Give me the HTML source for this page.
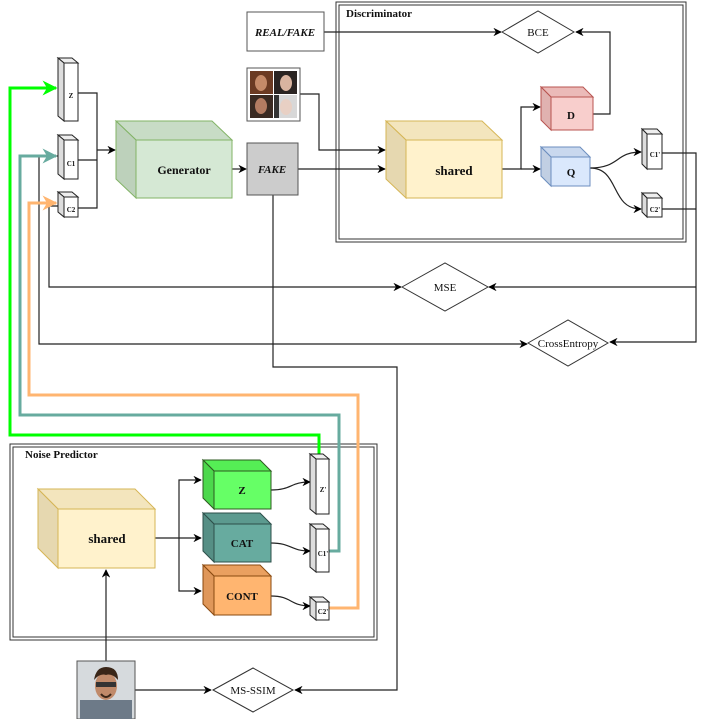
<!DOCTYPE html>
<html><head><meta charset="utf-8"><style>
html,body{margin:0;padding:0;background:#fff;}
svg{display:block;}
text{font-family:"Liberation Serif",serif;fill:#111;}
</style></head><body>
<svg width="701" height="719" viewBox="0 0 701 719" xmlns="http://www.w3.org/2000/svg">
<defs>
<marker id="a" viewBox="0 0 10 10" refX="9" refY="5" markerWidth="7" markerHeight="7" orient="auto"><path d="M0,0 L10,5 L0,10 L3,5z" fill="#000"/></marker>
<marker id="ag" viewBox="0 0 10 10" refX="9" refY="5" markerWidth="5" markerHeight="5" orient="auto"><path d="M0,0 L10,5 L0,10 L3,5z" fill="#00ff00"/></marker>
<marker id="at" viewBox="0 0 10 10" refX="9" refY="5" markerWidth="5" markerHeight="5" orient="auto"><path d="M0,0 L10,5 L0,10 L3,5z" fill="#67ab9f"/></marker>
<marker id="ao" viewBox="0 0 10 10" refX="9" refY="5" markerWidth="5" markerHeight="5" orient="auto"><path d="M0,0 L10,5 L0,10 L3,5z" fill="#ffb570"/></marker>
</defs>

<!-- container boxes -->
<rect x="336" y="2" width="350" height="240" fill="none" stroke="#333" stroke-width="1"/>
<rect x="339" y="5" width="344" height="234" fill="none" stroke="#333" stroke-width="1"/>
<text x="346" y="17" font-size="11" font-weight="bold">Discriminator</text>
<rect x="10" y="444" width="367" height="196" fill="none" stroke="#333"/>
<rect x="13" y="447" width="361" height="190" fill="none" stroke="#333"/>
<text x="25" y="458" font-size="11" font-weight="bold">Noise Predictor</text>

<!-- black connectors -->
<g fill="none" stroke="#222" stroke-width="1.2">
<path d="M78,93 H97 V208 H78 M78,160 H97"/>
<path d="M97,150 H115" marker-end="url(#a)"/>
<path d="M232,169 H246" marker-end="url(#a)"/>
<path d="M298,169 H385" marker-end="url(#a)"/>
<path d="M300,94 H319 V150 H385" marker-end="url(#a)"/>
<path d="M324,32 H501" marker-end="url(#a)"/>
<path d="M593,114 H610 V32 H576" marker-end="url(#a)"/>
<path d="M502,169 H521 V107 H540" marker-end="url(#a)"/>
<path d="M521,169 H540" marker-end="url(#a)"/>
<path d="M590,168 C620,168 615,152 641,152" marker-end="url(#a)"/>
<path d="M590,168 C620,168 610,209 641,209" marker-end="url(#a)"/>
<path d="M662,153 H696 V342 H610" marker-end="url(#a)"/>
<path d="M662,209 H696 M696,287 H489" marker-end="url(#a)"/>
<path d="M64,156 H39 V344 H527" marker-end="url(#a)"/>
<path d="M64,206 H49 V287 H401" marker-end="url(#a)"/>
<path d="M273,195 V367 H397 V690 H295" marker-end="url(#a)"/>
<path d="M135,690 H211" marker-end="url(#a)"/>
<path d="M106,661 V570" marker-end="url(#a)"/>
<path d="M155,538 H179 V480 H201" marker-end="url(#a)"/>
<path d="M179,538 H201" marker-end="url(#a)"/>
<path d="M179,538 V591 H201" marker-end="url(#a)"/>
<path d="M271,490 C292,490 290,482 310,482" marker-end="url(#a)"/>
<path d="M271,543 C292,543 290,551 310,551" marker-end="url(#a)"/>
<path d="M271,596 C292,596 290,606 310,606" marker-end="url(#a)"/>
</g>

<!-- coloured feedback lines -->
<g fill="none" stroke-width="3">
<path d="M319,454 V435 H10 V88 H56" stroke="#00ff00" marker-end="url(#ag)"/>
<path d="M329,551 H339 V415 H20 V156 H56" stroke="#67ab9f" marker-end="url(#at)"/>
<path d="M329,608 H358 V395 H29 V203 H56" stroke="#ffb570" marker-end="url(#ao)"/>
</g>

<!-- cubes -->
<g stroke-width="1">
<!-- generator -->
<g stroke="#82b366"><polygon points="116,121 212,121 232,140 136,140" fill="#c8dcc6"/><polygon points="116,121 136,140 136,198 116,179" fill="#bdd1bb"/><rect x="136" y="140" width="96" height="58" fill="#d5e8d4"/></g>
<text x="184" y="174" font-size="12" font-weight="bold" text-anchor="middle">Generator</text>
<!-- shared disc -->
<g stroke="#d6b656"><polygon points="386,121 482,121 502,140 406,140" fill="#f3e5bd"/><polygon points="386,121 406,140 406,198 386,179" fill="#e6d8b0"/><rect x="406" y="140" width="96" height="58" fill="#fff2cc"/></g>
<text x="454" y="175" font-size="13" font-weight="bold" text-anchor="middle">shared</text>
<!-- D -->
<g stroke="#b85450"><polygon points="541,87 583,87 593,97 551,97" fill="#ebbab8"/><polygon points="541,87 551,97 551,130 541,120" fill="#e0b2b0"/><rect x="551" y="97" width="42" height="33" fill="#f8cecc"/></g>
<text x="571" y="119" font-size="11" font-weight="bold" text-anchor="middle">D</text>
<!-- Q -->
<g stroke="#6c8ebf"><polygon points="541,147 580,147 590,157 551,157" fill="#c9d8ee"/><polygon points="541,147 551,157 551,186 541,176" fill="#c1cfe3"/><rect x="551" y="157" width="39" height="29" fill="#dae8fc"/></g>
<text x="571" y="176" font-size="11" font-weight="bold" text-anchor="middle">Q</text>
<!-- NP shared -->
<g stroke="#d6b656"><polygon points="38,489 135,489 155,509 58,509" fill="#f3e5bd"/><polygon points="38,489 58,509 58,568 38,548" fill="#e6d8b0"/><rect x="58" y="509" width="97" height="59" fill="#fff2cc"/></g>
<text x="107" y="543" font-size="13" font-weight="bold" text-anchor="middle">shared</text>
<!-- Z -->
<g stroke="#2d5a20"><polygon points="203,460 260,460 271,471 214,471" fill="#55ee55"/><polygon points="203,460 214,471 214,509 203,498" fill="#4cd84c"/><rect x="214" y="471" width="57" height="38" fill="#66ff66"/></g>
<text x="242" y="494" font-size="11" font-weight="bold" text-anchor="middle">Z</text>
<!-- CAT -->
<g stroke="#2d4f4a"><polygon points="203,513 260,513 271,524 214,524" fill="#5c9a8f"/><polygon points="203,513 214,524 214,562 203,551" fill="#568f85"/><rect x="214" y="524" width="57" height="38" fill="#67ab9f"/></g>
<text x="242" y="547" font-size="11" font-weight="bold" text-anchor="middle">CAT</text>
<!-- CONT -->
<g stroke="#8a4a10"><polygon points="203,565 260,565 271,576 214,576" fill="#eaa060"/><polygon points="203,565 214,576 214,615 203,604" fill="#df975a"/><rect x="214" y="576" width="57" height="39" fill="#ffb570"/></g>
<text x="242" y="600" font-size="11" font-weight="bold" text-anchor="middle">CONT</text>

<!-- slabs -->
<g stroke="#222" fill="#fff">
<polygon points="58,58 72,58 78,63 64,63" fill="#eee"/><polygon points="58,58 64,63 64,121 58,116" fill="#ddd"/><rect x="64" y="63" width="14" height="58"/>
<polygon points="58,135 72,135 78,140 64,140" fill="#eee"/><polygon points="58,135 64,140 64,179 58,174" fill="#ddd"/><rect x="64" y="140" width="14" height="39"/>
<polygon points="58,192 72,192 78,197 64,197" fill="#eee"/><polygon points="58,192 64,197 64,217 58,212" fill="#ddd"/><rect x="64" y="197" width="14" height="20"/>
<polygon points="642,129 657,129 662,134 647,134" fill="#eee"/><polygon points="642,129 647,134 647,169 642,164" fill="#ddd"/><rect x="647" y="134" width="15" height="35"/>
<polygon points="642,193 657,193 662,198 647,198" fill="#eee"/><polygon points="642,193 647,198 647,217 642,212" fill="#ddd"/><rect x="647" y="198" width="15" height="19"/>
<polygon points="310,454 323,454 329,459 316,459" fill="#eee"/><polygon points="310,454 316,459 316,514 310,509" fill="#ddd"/><rect x="316" y="459" width="13" height="55"/>
<polygon points="310,524 323,524 329,529 316,529" fill="#eee"/><polygon points="310,524 316,529 316,572 310,567" fill="#ddd"/><rect x="316" y="529" width="13" height="43"/>
<polygon points="310,597 323,597 329,602 316,602" fill="#eee"/><polygon points="310,597 316,602 316,620 310,615" fill="#ddd"/><rect x="316" y="602" width="13" height="18"/>
</g>
<g font-size="7" font-weight="bold" text-anchor="middle">
<text x="71" y="98">Z</text><text x="71" y="166">C1</text><text x="71" y="212">C2</text>
<text x="655" y="157">C1'</text><text x="655" y="212">C2'</text>
<text x="323" y="492">Z'</text><text x="323" y="556">C1'</text><text x="323" y="614">C2'</text>
</g>

<!-- boxes -->
<rect x="247" y="12" width="77" height="39" fill="#fff" stroke="#555"/>
<text x="285" y="36" font-size="11" font-weight="bold" font-style="italic" text-anchor="middle">REAL/FAKE</text>
<rect x="247" y="143" width="51" height="52" fill="#cccccc" stroke="#555"/>
<text x="272" y="173" font-size="11" font-weight="bold" font-style="italic" text-anchor="middle">FAKE</text>

<!-- face grid -->
<rect x="247" y="68" width="53" height="53" fill="#fff" stroke="#555"/>
<rect x="250" y="71" width="23" height="23" fill="#6b3a22"/><ellipse cx="261" cy="83" rx="6" ry="8" fill="#c58a68"/>
<rect x="274" y="71" width="23" height="23" fill="#2a2422"/><ellipse cx="286" cy="83" rx="6" ry="8" fill="#d9b4a0"/>
<rect x="250" y="95" width="23" height="23" fill="#3a2a22"/><ellipse cx="261" cy="106" rx="6" ry="8" fill="#b47c62"/>
<rect x="274" y="95" width="23" height="23" fill="#d8d8d8"/><ellipse cx="286" cy="107" rx="6" ry="8" fill="#e8d0c4"/><rect x="274" y="95" width="5" height="23" fill="#333"/>

<!-- photo -->
<rect x="77" y="661" width="58" height="58" fill="#d6dadd" stroke="#555"/>
<rect x="80" y="700" width="52" height="19" fill="#6d7a88"/>
<ellipse cx="106" cy="686" rx="11" ry="14" fill="#c08a6a"/>
<path d="M94,680 Q96,667 106,667 Q118,667 118,680 Q112,673 106,675 Q100,673 94,680z" fill="#3a2618"/>
<rect x="96" y="682" width="20" height="5" fill="#333"/>
<path d="M101,694 Q106,700 111,694" stroke="#3a2618" stroke-width="2" fill="none"/>

<!-- diamonds -->
<g fill="#fff" stroke="#333">
<polygon points="502,32 538,11 574,32 538,53"/>
<polygon points="402,287 445,263 488,287 445,311"/>
<polygon points="528,343 568,320 608,343 568,366"/>
<polygon points="213,690 253,668 293,690 253,712"/>
</g>
<g font-size="11" text-anchor="middle">
<text x="538" y="36">BCE</text>
<text x="445" y="291">MSE</text>
<text x="568" y="347">CrossEntropy</text>
<text x="253" y="694">MS-SSIM</text>
</g>
</svg>
</body></html>
